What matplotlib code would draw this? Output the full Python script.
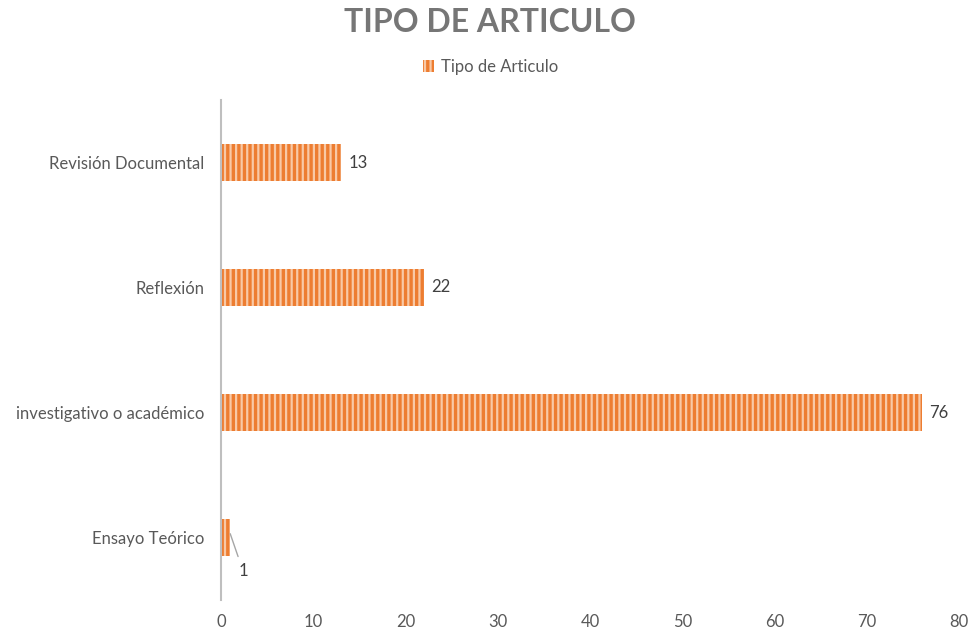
import matplotlib
matplotlib.use("Agg")
import matplotlib.pyplot as plt
from matplotlib.patches import Patch

categories = ["Ensayo Teórico", "investigativo o académico", "Reflexión", "Revisión Documental"]
values = [1, 76, 22, 13]
series_name = "Tipo de Articulo"
title = "TIPO DE ARTICULO"
xticks = [0, 10, 20, 30, 40, 50, 60, 70, 80]

plt.rcParams['font.family'] = ['Lato', 'DejaVu Sans']
plt.rcParams['hatch.linewidth'] = 1.6
gray = "#595959"
orange = "#ED7D31"
light = "#F8C9A6"

fig = plt.figure(figsize=(9.69, 6.32), dpi=100)
ax = fig.add_axes([221/969, 1-600/632, (959-221)/969, (600-100)/632])

ypos = list(range(len(categories)))
bars = ax.barh(ypos, values, height=0.3, color=orange, edgecolor=light,
               linewidth=0, hatch="|||")

ax.set_xlim(0, 80)
ax.set_ylim(-0.5, 3.5)
ax.set_yticks(ypos)
ax.set_yticklabels(categories, fontsize=12, color=gray)
ax.set_xticks(xticks)
ax.set_xticklabels([str(t) for t in xticks], fontsize=12, color=gray)
ax.tick_params(axis='both', length=0)
ax.tick_params(axis='x', pad=10)
ax.tick_params(axis='y', pad=12)
for s in ["top", "right", "bottom"]:
    ax.spines[s].set_visible(False)
ax.spines["left"].set_color("#BFBFBF")
ax.spines["left"].set_linewidth(1.5)

for y, v in zip(ypos, values):
    if v < 3:
        ax.annotate(str(v), xy=(v, y + 0.03), xytext=(v + 1.4, y - 0.27),
                    fontsize=12, color="#404040", ha="center", va="center",
                    arrowprops=dict(arrowstyle="-", color="#A6A6A6", lw=1,
                                    shrinkA=3, shrinkB=0))
    else:
        ax.text(v + 0.8, y, str(v), fontsize=12, color="#404040",
                ha="left", va="center")

fig.text(0.506, 0.964, title, fontsize=23, fontweight="bold", color="#767676",
         ha="center", va="center")

handle = Patch(facecolor=orange, edgecolor=light, linewidth=0, hatch="|||")
fig.legend([handle], [series_name], loc="center", bbox_to_anchor=(0.506, 0.894),
           frameon=False, fontsize=12, labelcolor=gray, handlelength=0.7,
           handleheight=0.7, handletextpad=0.4)

fig.savefig("out.png", dpi=100)
